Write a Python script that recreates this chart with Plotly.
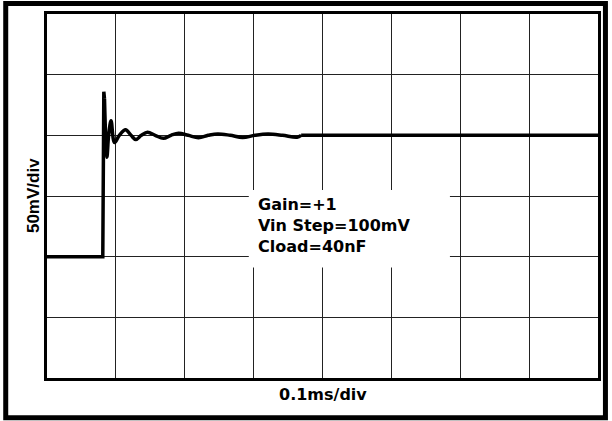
import plotly.graph_objects as go

# Time in ms (0.1 ms/div), output voltage in mV (50 mV/div)
time_ms = [0.0, 0.081, 0.0825, 0.0835, 0.087, 0.0895, 0.093, 0.098, 0.105,
           0.114, 0.122, 0.129, 0.137, 0.146, 0.157, 0.169, 0.180, 0.191,
           0.205, 0.220, 0.234, 0.248, 0.266, 0.284, 0.302, 0.321, 0.342,
           0.363, 0.369, 0.80]
vout_mV = [100, 100, 236, 230, 182, 200, 212, 194, 200,
           204.5, 200, 196.5, 200, 202.5, 200, 197.5, 200, 201.7,
           200, 198, 200, 201.2, 200, 198.2, 200, 201, 200,
           198.5, 200, 200]
STEP_END = 3     # sharp step/spike ends here; smooth ringing starts
TAIL_START = 28  # ringing has settled; flat tail starts

x_range = [0, 0.8]
y_range = [0, 300]
x_div = 0.1
y_div = 50

x_label = "0.1ms/div"
y_label = "50mV/div"
note_lines = ["Gain=+1", "Vin Step=100mV", "Cload=40nF"]

fig = go.Figure()
segments = [
    (0, STEP_END + 1, "linear"),
    (STEP_END, TAIL_START + 1, "spline"),
    (TAIL_START, len(time_ms), "linear"),
]
for a, b, shape in segments:
    fig.add_trace(go.Scatter(
        x=time_ms[a:b], y=vout_mV[a:b], mode="lines",
        line=dict(color="black", width=3.5, shape=shape,
                  **({"smoothing": 1.0} if shape == "spline" else {})),
        hoverinfo="skip", showlegend=False,
    ))

axis_common = dict(
    showgrid=True, gridcolor="#222222", gridwidth=1.2,
    zeroline=False, showticklabels=False, ticks="",
    showline=True, linecolor="black", linewidth=3, mirror=True,
    fixedrange=True,
)
fig.update_xaxes(range=x_range, dtick=x_div, tick0=0, **axis_common)
fig.update_yaxes(range=y_range, dtick=y_div, tick0=0, **axis_common)

# white box behind the note text
fig.add_shape(type="rect", xref="x", yref="y",
              x0=0.293, x1=0.585, y0=91, y1=155,
              fillcolor="white", line=dict(width=0), layer="between")

fig.add_annotation(
    x=0.303, y=0.42, xref="x", yref="paper",
    text="<br>".join(note_lines), showarrow=False,
    xanchor="left", yanchor="middle", align="left",
    font=dict(family="DejaVu Sans", size=16, color="black", weight="bold"),
)

fig.add_annotation(
    x=0.5, y=-0.044, xref="paper", yref="paper",
    text=x_label, showarrow=False, xanchor="center", yanchor="middle",
    font=dict(family="DejaVu Sans", size=16, color="black", weight="bold"),
)
fig.add_annotation(
    x=-0.0253, y=0.5, xref="paper", yref="paper",
    text=y_label, showarrow=False, textangle=-90,
    xanchor="center", yanchor="middle",
    font=dict(family="Liberation Sans", size=17, color="black", weight="bold"),
)

# outer frame around the whole figure
fig.add_shape(type="rect", xref="paper", yref="paper",
              x0=-0.0749, x1=1.0135, y0=-0.109, y1=1.0288,
              line=dict(color="black", width=5), fillcolor="rgba(0,0,0,0)")

fig.update_layout(
    width=612, height=421,
    margin=dict(l=47, r=11, t=14, b=43, pad=0),
    paper_bgcolor="white", plot_bgcolor="white",
)

fig.write_html("out.html", config={"displayModeBar": False},
               post_script="document.body.style.margin='0';")
